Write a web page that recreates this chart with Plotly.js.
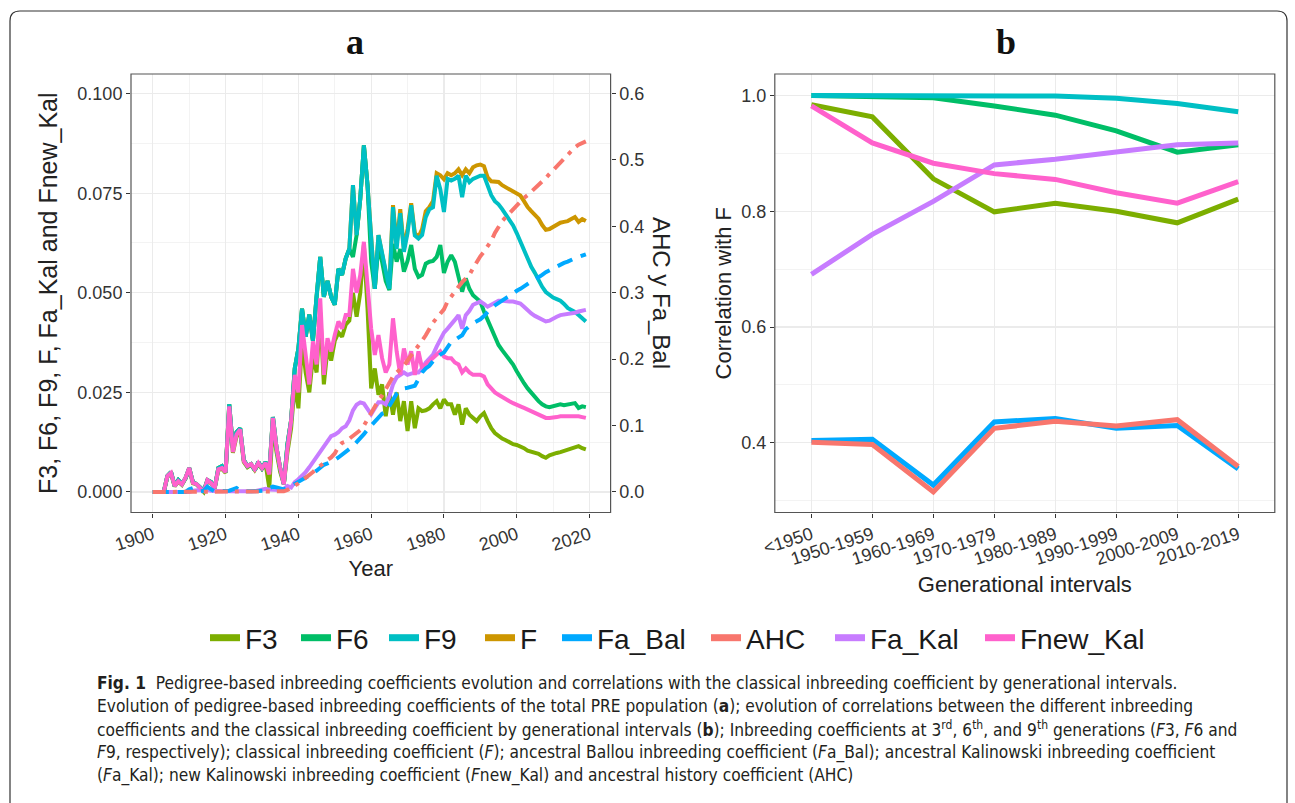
<!DOCTYPE html>
<html>
<head>
<meta charset="utf-8">
<script src="https://cdn.plot.ly/plotly-3.0.1.min.js"></script>
<style>html,body{margin:0;padding:0;background:#fff;}#chart{width:1295px;height:803px;}</style>
</head>
<body>
<div id="chart"></div>
<script>
// ---------------- DATA ----------------
const years = [
1900,1901,1902,1903,1904,1905,1906,1907,1908,1909,
1910,1911,1912,1913,1914,1915,1916,1917,1918,1919,
1920,1921,1922,1923,1924,1925,1926,1927,1928,1929,
1930,1931,1932,1933,1934,1935,1936,1937,1938,1939,
1940,1941,1942,1943,1944,1945,1946,1947,1948,1949,
1950,1951,1952,1953,1954,1955,1956,1957,1958,1959,
1960,1961,1962,1963,1964,1965,1966,1967,1968,1969,
1970,1971,1972,1973,1974,1975,1976,1977,1978,1979,
1980,1981,1982,1983,1984,1985,1986,1987,1988,1989,
1990,1991,1992,1993,1994,1995,1996,1997,1998,1999,
2000,2001,2002,2003,2004,2005,2006,2007,2008,2009,
2010,2011,2012,2013,2014,2015,2016,2017,2018,2019];

const F3 = [
0,0,0,0,0.0038,0.0046,0.0014,0.0026,0.0018,0.0034,
0.0058,0.0022,0.0019,0.0009,0,0.0028,0.0022,0.0009,0.0055,0.0058,
0.0048,0.021,0.0098,0.014,0.015,0.0075,0.0062,0.0068,0.0055,0.007,
0.0058,0.007,0.001,0.017,0.010,0.005,0.002,0.010,0.016,0.027,
0.021,0.038,0.030,0.025,0.034,0.030,0.045,0.027,0.036,0.033,
0.038,0.040,0.039,0.042,0.043,0.050,0.044,0.050,0.062,0.046,
0.026,0.031,0.0244,0.027,0.019,0.025,0.0194,0.025,0.0178,0.0228,
0.0153,0.0228,0.016,0.021,0.0203,0.0205,0.021,0.022,0.0228,0.021,
0.0232,0.022,0.022,0.0194,0.022,0.0169,0.021,0.0194,0.0186,0.0178,
0.019,0.0198,0.0178,0.016,0.0148,0.014,0.0134,0.013,0.0124,0.012,
0.0118,0.0115,0.011,0.0104,0.0101,0.0099,0.0096,0.009,0.0086,0.0092,
0.0096,0.0098,0.01,0.0103,0.0105,0.0107,0.011,0.0115,0.011,0.0107];

const F6 = [
0,0,0,0,0.004,0.005,0.0015,0.003,0.002,0.0035,
0.006,0.0025,0.002,0.001,0.0003,0.003,0.0025,0.001,0.006,0.0065,
0.005,0.022,0.011,0.015,0.016,0.008,0.0065,0.007,0.0055,0.0075,
0.006,0.0075,0.005,0.0188,0.011,0.006,0.002,0.012,0.018,0.031,
0.036,0.046,0.039,0.0445,0.038,0.049,0.059,0.049,0.053,0.049,
0.047,0.056,0.0545,0.0586,0.061,0.059,0.0645,0.0736,0.087,0.077,
0.0578,0.051,0.062,0.0578,0.053,0.0507,0.0623,0.0578,0.061,0.0553,
0.058,0.062,0.056,0.054,0.0545,0.0573,0.0578,0.058,0.059,0.062,
0.055,0.0578,0.0594,0.0578,0.0544,0.0503,0.0536,0.051,0.0494,0.0486,
0.0478,0.0453,0.0432,0.041,0.039,0.0369,0.0356,0.0344,0.0332,0.032,
0.0303,0.0286,0.0273,0.026,0.0248,0.0236,0.0228,0.022,0.0215,0.0213,
0.0215,0.0218,0.022,0.0218,0.022,0.0222,0.0223,0.0211,0.0215,0.0213];

const F9 = [
0,0,0,0,0.004,0.005,0.0015,0.003,0.002,0.0035,
0.006,0.0025,0.002,0.001,0.0003,0.003,0.0025,0.001,0.006,0.0065,
0.005,0.022,0.011,0.015,0.016,0.008,0.0065,0.007,0.0055,0.0075,
0.006,0.0075,0.005,0.0188,0.011,0.006,0.002,0.012,0.018,0.031,
0.036,0.046,0.039,0.0445,0.038,0.049,0.059,0.049,0.053,0.049,
0.047,0.056,0.0545,0.0586,0.061,0.077,0.0645,0.0736,0.087,0.077,
0.063,0.051,0.0645,0.060,0.055,0.051,0.0715,0.061,0.070,0.0603,
0.065,0.072,0.0644,0.0636,0.0645,0.069,0.071,0.0715,0.0794,0.076,
0.0703,0.0786,0.0782,0.0786,0.0794,0.074,0.0794,0.0778,0.0786,0.079,
0.0794,0.0794,0.077,0.0745,0.073,0.0722,0.071,0.0697,0.068,0.0669,
0.065,0.0628,0.0608,0.0585,0.0565,0.055,0.053,0.0515,0.0502,0.0494,
0.0488,0.0484,0.048,0.0472,0.0462,0.0457,0.0452,0.0444,0.0436,0.0428];

const F = [
0,0,0,0,0.004,0.005,0.0015,0.003,0.002,0.0035,
0.006,0.0025,0.002,0.001,0.0003,0.003,0.0025,0.001,0.006,0.0065,
0.005,0.022,0.011,0.015,0.016,0.008,0.0065,0.007,0.0055,0.0075,
0.006,0.0075,0.005,0.0188,0.011,0.006,0.002,0.012,0.018,0.031,
0.036,0.046,0.039,0.0445,0.038,0.049,0.059,0.049,0.053,0.049,
0.047,0.056,0.0545,0.0586,0.061,0.077,0.0645,0.0736,0.087,0.077,
0.063,0.051,0.0645,0.060,0.055,0.052,0.072,0.062,0.071,0.061,
0.066,0.0725,0.065,0.064,0.066,0.0705,0.0715,0.073,0.080,0.0795,
0.0785,0.080,0.0795,0.080,0.081,0.0795,0.081,0.080,0.0815,0.082,
0.0822,0.0818,0.079,0.078,0.0778,0.0778,0.077,0.0765,0.076,0.0753,
0.075,0.0744,0.073,0.0715,0.0705,0.0695,0.0686,0.067,0.0658,0.066,
0.0665,0.0672,0.0676,0.0678,0.068,0.0685,0.069,0.0678,0.0685,0.068];

const Fa_Bal = [
0,0,0,0,0,0,0,0,0,0,
0.004,0.006,0.003,0.001,0.002,0.008,0.004,0.001,0.001,0.001,
0.001,0.002,0.004,0.006,0.002,0.001,0.001,0.001,0.001,0.001,
0.001,0.002,0.006,0.008,0.007,0.005,0.004,0.006,0.009,0.012,
0.016,0.018,0.021,0.025,0.028,0.032,0.036,0.041,0.043,0.045,
0.048,0.052,0.056,0.06,0.064,0.069,0.075,0.08,0.087,0.094,
0.1,0.108,0.114,0.118,0.12,0.13,0.14,0.148,0.153,0.156,
0.157,0.159,0.16,0.17,0.18,0.186,0.19,0.197,0.203,0.207,
0.21,0.218,0.226,0.229,0.232,0.236,0.245,0.25,0.254,0.257,
0.26,0.265,0.272,0.277,0.281,0.285,0.289,0.292,0.295,0.3,
0.303,0.306,0.31,0.314,0.317,0.32,0.323,0.327,0.331,0.334,
0.336,0.339,0.342,0.345,0.347,0.35,0.352,0.354,0.356,0.358];

const AHC = [
0,0,0,0,0,0,0,0,0,0,
0,0,0,0,0,0,0,0,0,0,
0,0,0,0,0,0,0,0,0,0,
0,0,0,0,0,0,0.001,0.003,0.006,0.01,
0.013,0.017,0.021,0.025,0.03,0.035,0.04,0.044,0.048,0.052,
0.058,0.068,0.074,0.076,0.08,0.085,0.089,0.093,0.1,0.11,
0.12,0.13,0.138,0.145,0.155,0.166,0.174,0.18,0.185,0.19,
0.198,0.205,0.213,0.22,0.228,0.236,0.246,0.255,0.262,0.268,
0.275,0.287,0.295,0.302,0.309,0.316,0.322,0.327,0.337,0.347,
0.355,0.362,0.37,0.378,0.39,0.4,0.408,0.414,0.42,0.426,
0.433,0.438,0.443,0.447,0.452,0.456,0.461,0.467,0.473,0.479,
0.485,0.49,0.496,0.502,0.508,0.513,0.519,0.523,0.526,0.528];

const Fa_Kal = [
0,0,0,0,0,0,0,0,0,0,
0,0.0003,0.0005,0.0005,0.0003,0.0005,0.0003,0.0002,0.0002,0.0002,
0.0002,0.0002,0.0002,0.0002,0.0002,0.0002,0.0003,0.0001,0.0002,0.0004,
0.0006,0.0008,0.0006,0.0005,0.0004,0.0005,0.0008,0.0015,0.0011,0.0025,
0.0032,0.004,0.005,0.0062,0.0075,0.009,0.0102,0.0115,0.013,0.014,
0.0144,0.015,0.016,0.0165,0.018,0.0205,0.0219,0.0225,0.0222,0.021,
0.0195,0.021,0.0225,0.0225,0.022,0.024,0.027,0.0288,0.0294,0.030,
0.0294,0.0297,0.030,0.030,0.031,0.0325,0.0336,0.0345,0.0365,0.0385,
0.040,0.041,0.0423,0.0432,0.0444,0.041,0.0444,0.0455,0.047,0.0475,
0.0478,0.0472,0.0465,0.047,0.0475,0.048,0.048,0.0478,0.0478,0.0478,
0.0476,0.0473,0.0465,0.0455,0.0448,0.0442,0.0438,0.0432,0.0428,0.043,
0.0436,0.044,0.0444,0.0445,0.0447,0.0448,0.045,0.0453,0.0455,0.0457];

const Fnew_Kal = [
0,0,0,0,0.004,0.0048,0.0015,0.0027,0.0019,0.0036,
0.006,0.0023,0.002,0.001,0,0.003,0.0023,0.001,0.0057,0.006,
0.005,0.0215,0.010,0.0144,0.0157,0.0078,0.0065,0.007,0.0057,0.0073,
0.006,0.0073,0.0044,0.0186,0.011,0.006,0.0019,0.011,0.0178,0.0294,
0.025,0.0419,0.0336,0.027,0.0378,0.032,0.0486,0.0294,0.0386,0.0353,
0.0394,0.0428,0.041,0.0444,0.0444,0.056,0.050,0.0544,0.0628,0.0528,
0.041,0.0344,0.0394,0.0336,0.030,0.032,0.0436,0.0353,0.0294,0.036,
0.032,0.0353,0.0294,0.0353,0.031,0.032,0.0328,0.0336,0.0345,0.0353,
0.034,0.0336,0.0336,0.0325,0.032,0.030,0.031,0.030,0.0294,0.0294,
0.0294,0.029,0.027,0.026,0.025,0.0244,0.0238,0.0232,0.0228,0.0223,
0.022,0.0215,0.0211,0.0207,0.0203,0.0198,0.0193,0.019,0.0186,0.0186,
0.0186,0.0188,0.019,0.019,0.019,0.019,0.0192,0.019,0.0188,0.0186];

// panel b: correlation with F by generational interval
const intervals = ['<1950','1950-1959','1960-1969','1970-1979','1980-1989','1990-1999','2000-2009','2010-2019'];
const corF3      = [0.984,0.963,0.856,0.799,0.814,0.800,0.780,0.821];
const corF6      = [1.000,0.999,0.996,0.982,0.966,0.939,0.902,0.915];
const corF9      = [1.000,1.000,1.000,1.000,0.999,0.995,0.986,0.972];
const corFa_Bal  = [0.404,0.406,0.327,0.436,0.442,0.425,0.430,0.355];
const corAHC     = [0.401,0.397,0.315,0.425,0.437,0.429,0.440,0.359];
const corFa_Kal  = [0.691,0.760,0.817,0.880,0.890,0.902,0.915,0.918];
const corFnew_Kal= [0.982,0.918,0.883,0.865,0.855,0.832,0.814,0.851];

const legendNames = ['F3','F6','F9','F','Fa_Bal','AHC','Fa_Kal','Fnew_Kal'];
const yTicksLeft = [0,0.025,0.05,0.075,0.1];
const yTicksRight = [0,0.1,0.2,0.3,0.4,0.5,0.6];
const yTicksB = [0.4,0.6,0.8,1.0];
const xTicksA = [1900,1920,1940,1960,1980,2000,2020];

// ---------------- STYLE ----------------
const COL = {F3:'#7CAE00',F6:'#00BE67',F9:'#00BFC4',F:'#CD9600',Fa_Bal:'#00A9FF',AHC:'#F8766D',Fa_Kal:'#C77CFF',Fnew_Kal:'#FF61CC'};
const W = 1295, H = 803;
const px = v => v / W, py = v => 1 - v / H;
const SANS = 'Liberation Sans, Arial, sans-serif';
const TXT = '#333333';
const GRID = '#ebebeb';

const traces = [];
function lineA(y, name, yaxis, dash) {
  traces.push({x: years, y: y, name: name, type: 'scatter', mode: 'lines',
    xaxis: 'x', yaxis: yaxis, showlegend: false, hoverinfo: 'skip',
    line: {color: COL[name], width: 4, dash: dash || 'solid'}});
}
lineA(F, 'F', 'y');
lineA(F3, 'F3', 'y');
lineA(F6, 'F6', 'y');
lineA(F9, 'F9', 'y');
lineA(Fa_Bal, 'Fa_Bal', 'y2', '16px,9px');
lineA(AHC, 'AHC', 'y2', '13px,7px,4px,7px');
lineA(Fa_Kal, 'Fa_Kal', 'y');
lineA(Fnew_Kal, 'Fnew_Kal', 'y');

function lineB(y, name) {
  traces.push({x: intervals, y: y, name: name, type: 'scatter', mode: 'lines',
    xaxis: 'x2', yaxis: 'y3', showlegend: false, hoverinfo: 'skip',
    line: {color: COL[name], width: 5}});
}
lineB(corF3, 'F3'); lineB(corF6, 'F6'); lineB(corF9, 'F9');
lineB(corFa_Bal, 'Fa_Bal'); lineB(corAHC, 'AHC');
lineB(corFa_Kal, 'Fa_Kal'); lineB(corFnew_Kal, 'Fnew_Kal');

// legend: one legend box per entry, placed like the ggplot guide
const legendKeyX = [206, 297, 385, 481, 558, 707, 831, 981];
const layout = {
  width: W, height: H,
  margin: {l: 0, r: 0, t: 0, b: 0},
  paper_bgcolor: '#ffffff', plot_bgcolor: '#ffffff',
  font: {family: SANS, color: TXT},
  showlegend: true,
  xaxis: {
    domain: [px(131), px(610.6)], range: [1894, 2025.8], anchor: 'y',
    tickmode: 'array', tickvals: xTicksA, tickangle: -18,
    ticks: 'outside', ticklen: 4, tickcolor: '#333', tickwidth: 1,
    tickfont: {size: 18, color: TXT, family: SANS},
    showgrid: true, gridcolor: GRID, gridwidth: 1.2, zeroline: false, showline: false,
    minor: {dtick: 10, tick0: 1900, showgrid: true, gridcolor: GRID, gridwidth: 0.6, ticks: ''},
    title: {text: 'Year', font: {size: 22, color: '#222'}, standoff: 6},
    automargin: false
  },
  yaxis: {
    domain: [py(512.5), py(74)], range: [-0.00515, 0.10492], anchor: 'x',
    tickmode: 'array', tickvals: yTicksLeft, tickformat: '.3f',
    ticks: 'outside', ticklen: 4, tickcolor: '#333',
    tickfont: {size: 18, color: TXT, family: SANS},
    showgrid: true, gridcolor: GRID, gridwidth: 1.2, zeroline: false, showline: false,
    minor: {dtick: 0.0125, tick0: 0, showgrid: true, gridcolor: GRID, gridwidth: 0.6, ticks: ''},
    title: {text: 'F3, F6, F9, F, Fa_Kal and Fnew_Kal', font: {size: 25, color: '#222'}, standoff: 12},
    automargin: false
  },
  yaxis2: {
    overlaying: 'y', side: 'right', anchor: 'x', range: [-0.0309, 0.6295],
    tickmode: 'array', tickvals: yTicksRight, tickformat: '.1f',
    ticks: 'outside', ticklen: 4, tickcolor: '#333',
    tickfont: {size: 18, color: TXT, family: SANS},
    showgrid: false, zeroline: false, showline: false, automargin: false
  },
  xaxis2: {
    domain: [px(774.8), px(1274.8)], type: 'category', categoryorder: 'array', categoryarray: intervals,
    range: [-0.6, 7.6], anchor: 'y3', tickangle: -18,
    ticks: 'outside', ticklen: 4, tickcolor: '#333',
    tickfont: {size: 18, color: TXT, family: SANS},
    showgrid: true, gridcolor: GRID, gridwidth: 1.2, zeroline: false, showline: false,
    title: {text: 'Generational intervals', font: {size: 22, color: '#222'}, standoff: 8},
    automargin: false
  },
  yaxis3: {
    domain: [py(512.5), py(74)], range: [0.2796, 1.0371], anchor: 'x2',
    tickmode: 'array', tickvals: yTicksB, tickformat: '.1f',
    ticks: 'outside', ticklen: 4, tickcolor: '#333',
    tickfont: {size: 18, color: TXT, family: SANS},
    showgrid: true, gridcolor: GRID, gridwidth: 1.2, zeroline: false, showline: false,
    minor: {dtick: 0.1, tick0: 0.3, showgrid: true, gridcolor: GRID, gridwidth: 0.6, ticks: ''},
    title: {text: 'Correlation with F', font: {size: 22, color: '#222'}, standoff: 3},
    automargin: false
  },
  shapes: [
    {type: 'rect', xref: 'x domain', yref: 'y domain', x0: 0, x1: 1, y0: 0, y1: 1,
     line: {color: '#555', width: 1.2}, fillcolor: 'rgba(0,0,0,0)', layer: 'above'},
    {type: 'rect', xref: 'x2 domain', yref: 'y3 domain', x0: 0, x1: 1, y0: 0, y1: 1,
     line: {color: '#555', width: 1.2}, fillcolor: 'rgba(0,0,0,0)', layer: 'above'},
    {type: 'path', xref: 'paper', yref: 'paper',
     path: 'M ' + px(10) + ',' + py(810) + ' L ' + px(10) + ',' + py(21) +
           ' Q ' + px(10) + ',' + py(11) + ' ' + px(20) + ',' + py(11) +
           ' L ' + px(1277) + ',' + py(11) +
           ' Q ' + px(1287) + ',' + py(11) + ' ' + px(1287) + ',' + py(21) +
           ' L ' + px(1287) + ',' + py(810),
     line: {color: '#333', width: 1.2}}
  ],
  annotations: [
    {text: '<b>a</b>', xref: 'paper', yref: 'paper', x: px(355), y: py(42), showarrow: false,
     xanchor: 'center', yanchor: 'middle', font: {family: 'Liberation Serif, Times New Roman, serif', size: 36, color: '#111'}},
    {text: '<b>b</b>', xref: 'paper', yref: 'paper', x: px(1006), y: py(42), showarrow: false,
     xanchor: 'center', yanchor: 'middle', font: {family: 'Liberation Serif, Times New Roman, serif', size: 36, color: '#111'}},
    {text: 'AHC y Fa_Bal', xref: 'paper', yref: 'paper', x: px(662), y: py(293), showarrow: false,
     textangle: 90, xanchor: 'center', yanchor: 'middle', font: {size: 24, color: '#222', family: SANS}}
  ]
};

legendNames.forEach((nm, i) => {
  const key = i === 0 ? 'legend' : 'legend' + (i + 1);
  layout[key] = {x: px(legendKeyX[i] - 1), xanchor: 'left', y: py(638), yanchor: 'middle',
    orientation: 'h', bgcolor: 'rgba(0,0,0,0)', borderwidth: 0, itemwidth: 30,
    font: {size: 28, color: '#1a1a1a', family: SANS}};
  traces.push({x: [null], y: [null], type: 'scatter', mode: 'lines', name: nm,
    xaxis: 'x', yaxis: 'y', legend: key, showlegend: true, hoverinfo: 'skip',
    line: {color: COL[nm], width: 7}});
});

// caption
const CAP = 'Liberation Sans Narrow, Arial Narrow, DejaVu Sans Condensed, sans-serif';
const captionLines = [
  '<b>Fig. 1</b>\u00A0\u00A0Pedigree-based inbreeding coefficients evolution and correlations with the classical inbreeding coefficient by generational intervals.',
  'Evolution of pedigree-based inbreeding coefficients of the total PRE population (<b>a</b>); evolution of correlations between the different inbreeding',
  'coefficients and the classical inbreeding coefficient by generational intervals (<b>b</b>); Inbreeding coefficients at 3<sup>rd</sup>, 6<sup>th</sup>, and 9<sup>th</sup> generations (<i>F</i>3, <i>F</i>6 and',
  '<i>F</i>9, respectively); classical inbreeding coefficient (<i>F</i>); ancestral Ballou inbreeding coefficient (<i>F</i>a_Bal); ancestral Kalinowski inbreeding coefficient',
  '(<i>F</i>a_Kal); new Kalinowski inbreeding coefficient (<i>F</i>new_Kal) and ancestral history coefficient (AHC)'
];
const captionY = [683, 706, 729, 752, 775];
captionLines.forEach((t, i) => {
  layout.annotations.push({text: t, xref: 'paper', yref: 'paper', x: px(95), y: py(captionY[i]),
    showarrow: false, xanchor: 'left', yanchor: 'middle', align: 'left',
    font: {family: CAP, size: 17.2, color: '#231f20'}});
});

Plotly.newPlot('chart', traces, layout, {staticPlot: true, displayModeBar: false});
</script>
</body>
</html>
